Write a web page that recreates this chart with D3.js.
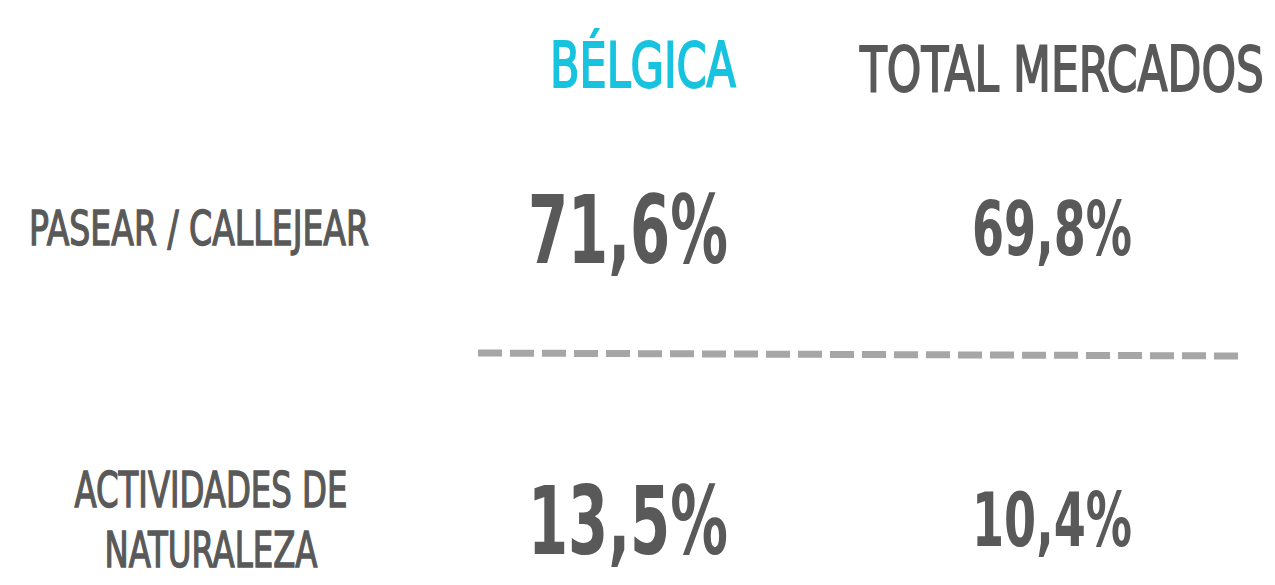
<!DOCTYPE html>
<html>
<head>
<meta charset="utf-8">
<script src="https://cdn.jsdelivr.net/npm/d3@7/dist/d3.min.js"></script>
<style>
  html, body { margin: 0; padding: 0; background: #fff; }
  svg { display: block; }
  text { font-family: "DejaVu Sans Condensed", "Liberation Sans Narrow", sans-serif; }
</style>
</head>
<body>
<div id="chart"></div>
<script>
// --- data ---
var columns   = ['BÉLGICA', 'TOTAL MERCADOS'];
var rows      = ['PASEAR / CALLEJEAR', 'ACTIVIDADES DE NATURALEZA'];
var rowLines  = [['PASEAR / CALLEJEAR'], ['ACTIVIDADES DE', 'NATURALEZA']];
var belgica   = [71.6, 13.5];
var total     = [69.8, 10.4];

var width = 1275, height = 585;
var grey = '#595959', cyan = '#17c3de';
var capH = 0.729;   // cap height of the font, in em

// rendered widths of the condensed face used in the picture
var boxW = {
  'BÉLGICA': 186, 'TOTAL MERCADOS': 404,
  'PASEAR / CALLEJEAR': 340, 'ACTIVIDADES DE': 273, 'NATURALEZA': 213
};

var fmt = function(v) { return d3.format('.1f')(v).replace('.', ',') + '%'; };

var svg = d3.select('#chart').append('svg')
    .attr('width', width)
    .attr('height', height);

// column centres (values) and row centres
var x = d3.scalePoint().domain(columns).range([628, 1052]);
var y = d3.scalePoint().domain(rows).range([228, 519]);

// squeeze each text horizontally (about its middle anchor) to a target width
var fit = function(sel, w) {
  sel.each(function(d, i) {
    var t = d3.select(this);
    var natural = this.getComputedTextLength();
    var target = typeof w === 'function' ? w(d, i) : w;
    var k = target / natural;
    var cx = +t.attr('x');
    t.attr('transform', 'translate(' + cx + ',0) scale(' + k + ',1) translate(' + (-cx) + ',0)');
  });
};

// headers
svg.selectAll('text.header')
  .data(columns)
  .enter().append('text')
    .attr('class', 'header')
    .attr('x', function(d, i) { return x(d) + (i === 0 ? 15 : 10); })
    .attr('y', function(d, i) { return i === 0 ? 87 : 91; })
    .attr('text-anchor', 'middle')
    .attr('font-size', 62)
    .attr('fill', function(d, i) { return i === 0 ? cyan : grey; })
    .attr('stroke', function(d, i) { return i === 0 ? cyan : grey; })
    .attr('stroke-width', 1.8)
    .text(function(d) { return d; })
    .call(fit, function(d) { return boxW[d]; });

// row labels
var lineGap = 60;
rowLines.forEach(function(lines, r) {
  var size = r === 0 ? 48 : 49;
  var cy = y(rows[r]);
  var top = cy - (lines.length - 1) * lineGap / 2;
  svg.selectAll(null)
    .data(lines)
    .enter().append('text')
      .attr('class', 'label')
      .attr('x', r === 0 ? 199 : 211)
      .attr('y', function(d, i) { return top + i * lineGap + size * capH / 2; })
      .attr('text-anchor', 'middle')
      .attr('font-size', size)
      .attr('fill', grey)
      .attr('stroke', grey)
      .attr('stroke-width', 1.4)
      .text(function(d) { return d; })
      .call(fit, function(d) { return boxW[d]; });
});

// values
var series = [
  { col: columns[0], values: belgica, size: 95, w: 200 },
  { col: columns[1], values: total,   size: 74, w: 160 }
];
series.forEach(function(s) {
  svg.selectAll(null)
    .data(s.values)
    .enter().append('text')
      .attr('class', 'value')
      .attr('x', x(s.col))
      .attr('y', function(d, i) { return y(rows[i]) + s.size * capH / 2; })
      .attr('text-anchor', 'middle')
      .attr('font-size', s.size)
      .attr('font-weight', 'bold')
      .attr('fill', grey)
      .text(fmt)
      .call(fit, s.w);
});

// dashed separator
svg.append('line')
    .attr('x1', 478).attr('y1', 353)
    .attr('x2', 1238).attr('y2', 356)
    .attr('stroke', '#a6a6a6')
    .attr('stroke-width', 7)
    .attr('stroke-dasharray', '24 8');
</script>
</body>
</html>
